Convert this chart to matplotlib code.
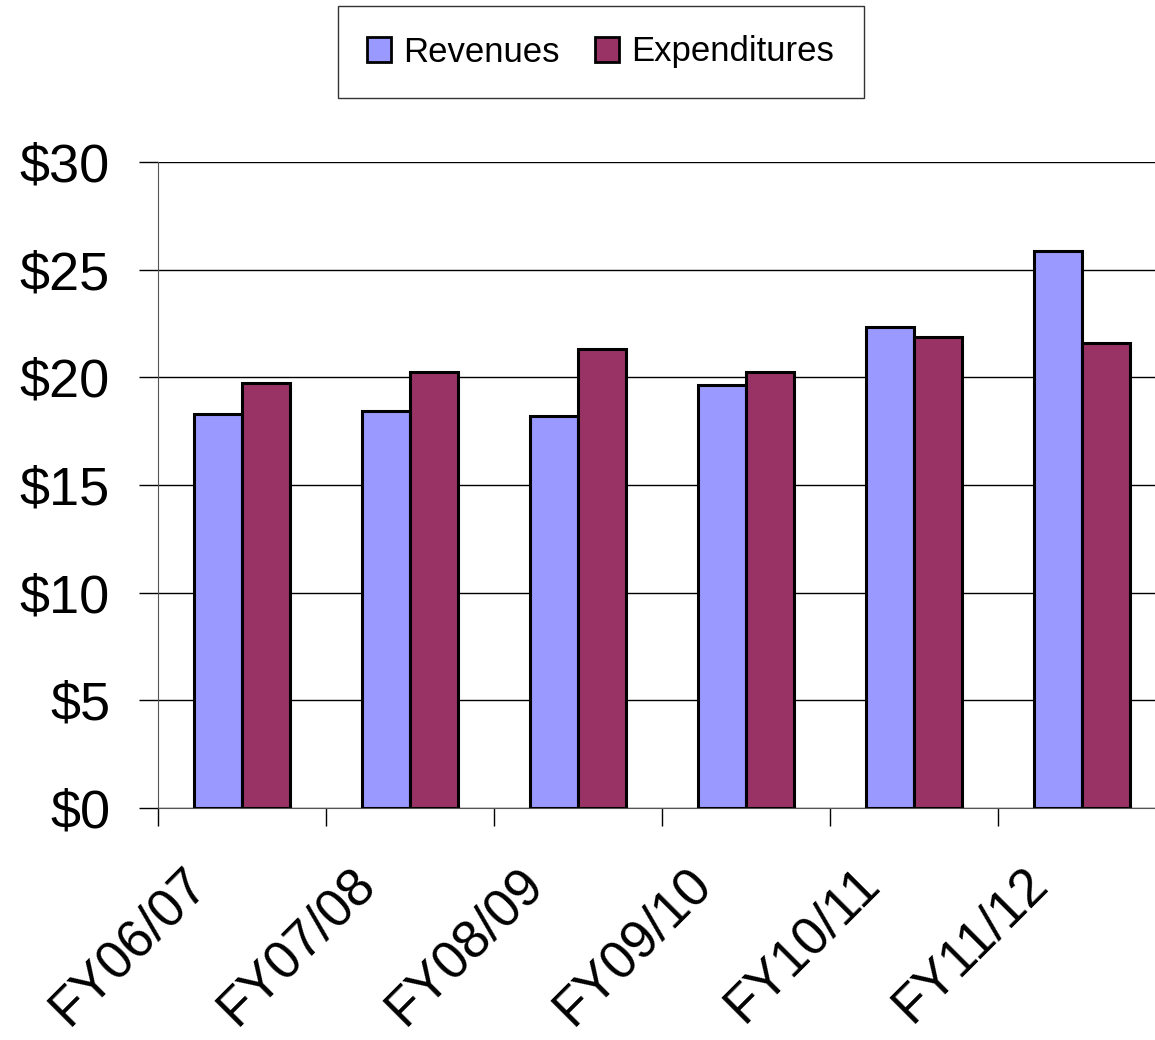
import numpy as np
import matplotlib.pyplot as plt
import matplotlib.transforms as mtransforms
from matplotlib.ticker import FixedLocator

plt.rcParams['font.family'] = ['Liberation Sans', 'DejaVu Sans']

years = ['FY06/07', 'FY07/08', 'FY08/09', 'FY09/10', 'FY10/11', 'FY11/12']
revenues = [18.3, 18.45, 18.2, 19.65, 22.35, 25.85]
expenditures = [19.75, 20.25, 21.3, 20.25, 21.85, 21.6]

fig = plt.figure(figsize=(11.55, 10.4), dpi=100)
ax = fig.add_axes([0.1368, 0.2231, 0.8727, 0.6212])

x = np.arange(len(years))
w = 0.2857
ax.bar(x - w / 2, revenues, w, color='#9999FF', edgecolor='black', linewidth=2.2,
       label='Revenues', zorder=3)
ax.bar(x + w / 2, expenditures, w, color='#993366', edgecolor='black', linewidth=2.2,
       label='Expenditures', zorder=3)

ax.set_xlim(-0.5, 5.5)
ax.set_ylim(0, 30)
ax.set_yticks(range(0, 31, 5))
ax.set_yticklabels(['$%d' % v for v in range(0, 31, 5)], fontsize=39)
ax.grid(axis='y', color='black', linewidth=1, zorder=0)

ax.set_xticks(x)
ax.set_xticklabels(years, fontsize=38, rotation=45, ha='right', va='top')
ax.tick_params(axis='x', which='major', length=0, pad=36)
# nudge rotated labels to the left a little
shift = mtransforms.ScaledTranslation(-25 / 100, 0, fig.dpi_scale_trans)
for lbl in ax.get_xticklabels():
    lbl.set_transform(lbl.get_transform() + shift)
ax.xaxis.set_minor_locator(FixedLocator(np.arange(-0.5, 5.6, 1)))
ax.tick_params(axis='x', which='minor', length=13, width=1, color='black')
ax.tick_params(axis='y', length=13.5, width=1, pad=21)

for s in ['top', 'right']:
    ax.spines[s].set_visible(False)
ax.spines['left'].set_color('#555555')
ax.spines['bottom'].set_color('#555555')

leg = fig.legend(loc='center', bbox_to_anchor=(0.52, 0.95), ncol=2, fontsize=25,
                 frameon=True, fancybox=False, edgecolor='black', handlelength=0.7,
                 handleheight=0.7, handletextpad=0.35, columnspacing=1.0,
                 borderpad=0.85)
leg.get_frame().set_linewidth(1)
for h in leg.legend_handles:
    h.set_linewidth(2)

plt.savefig('out.png', dpi=100)
